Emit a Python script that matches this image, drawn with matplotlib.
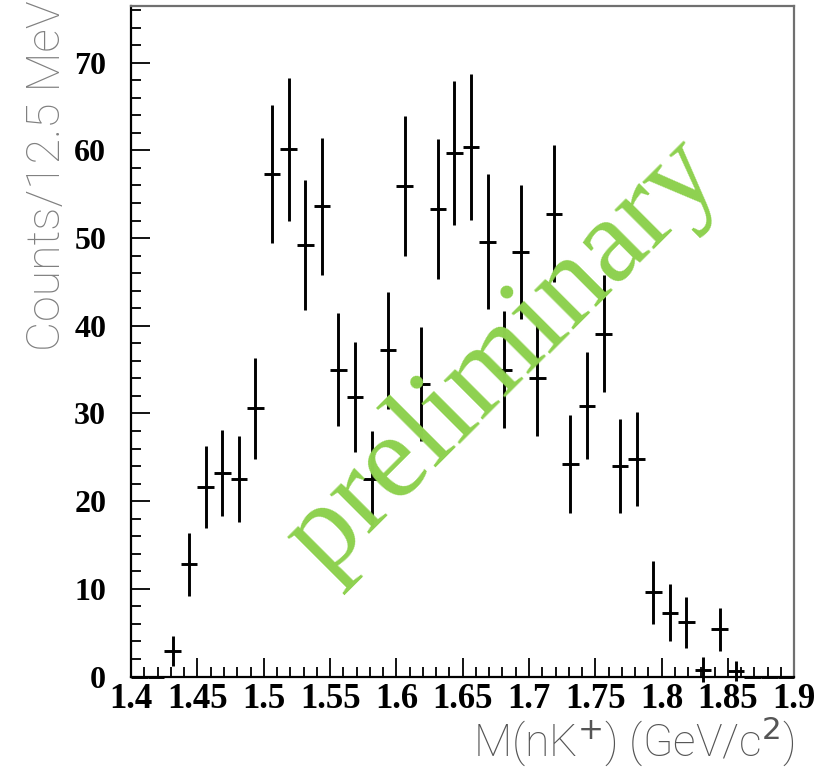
import numpy as np
import matplotlib
matplotlib.use("Agg")
import matplotlib.pyplot as plt
from matplotlib.ticker import MultipleLocator

# bin centres of the M(nK+) histogram, 12.5 MeV bins from 1.4 to 1.9 GeV
mass = [1.40625, 1.41875, 1.43125, 1.44375, 1.45625, 1.46875, 1.48125, 1.49375,
        1.50625, 1.51875, 1.53125, 1.54375, 1.55625, 1.56875, 1.58125, 1.59375,
        1.60625, 1.61875, 1.63125, 1.64375, 1.65625, 1.66875, 1.68125, 1.69375,
        1.70625, 1.71875, 1.73125, 1.74375, 1.75625, 1.76875, 1.78125, 1.79375,
        1.80625, 1.81875, 1.83125, 1.84375, 1.85625, 1.86875, 1.88125, 1.89375]
bin_half = 0.00625

counts = [0, 0, 2.9, 12.8, 21.6, 23.2, 22.5, 30.6,
          57.3, 60.1, 49.2, 53.6, 35.0, 31.9, 22.5, 37.2,
          55.9, 33.4, 53.3, 59.7, 60.4, 49.6, 35.0, 48.4,
          34.0, 52.8, 24.2, 30.9, 39.1, 24.0, 24.8, 9.6,
          7.3, 6.2, 0.8, 5.4, 0.6, 0, 0, 0]

errors = [0, 0, 1.75, 3.6, 4.7, 4.95, 4.9, 5.75,
          7.85, 8.1, 7.4, 7.8, 6.45, 6.3, 5.45, 6.7,
          8.0, 6.5, 7.95, 8.25, 8.35, 7.7, 6.65, 7.6,
          6.55, 7.8, 5.6, 6.1, 6.7, 5.4, 5.4, 3.6,
          3.2, 2.9, 1.4, 2.45, 1.15, 0, 0, 0]

xticks = [1.4, 1.45, 1.5, 1.55, 1.6, 1.65, 1.7, 1.75, 1.8, 1.85, 1.9]
xtick_labels = ["1.4", "1.45", "1.5", "1.55", "1.6", "1.65", "1.7", "1.75", "1.8", "1.85", "1.9"]
yticks = [0, 10, 20, 30, 40, 50, 60, 70]

serif = ["Liberation Serif", "DejaVu Serif"]
thin = ["Roboto", "DejaVu Sans"]

fig = plt.figure(figsize=(8.25, 7.68), dpi=100)
ax = fig.add_axes([0.159, 0.1191, 0.8037, 0.8735])

ax.errorbar(mass, counts, yerr=errors, xerr=bin_half, fmt="none",
            ecolor="black", elinewidth=2.1, capsize=0, clip_on=False, zorder=3)

ax.set_xlim(1.4, 1.9)
ax.set_ylim(0, 76.5)

ax.set_xticks(xticks)
ax.set_xticklabels(xtick_labels)
ax.set_yticks(yticks)
ax.xaxis.set_minor_locator(MultipleLocator(0.01))
ax.yaxis.set_minor_locator(MultipleLocator(2))
ax.tick_params(which="both", direction="in", top=False, right=False, width=1.3, color="black")
ax.tick_params(which="major", length=14)
ax.tick_params(which="minor", length=7)
ax.tick_params(axis="y", which="major", pad=18)
ax.tick_params(axis="x", which="major", pad=5)
for lab in ax.get_xticklabels():
    lab.set_fontfamily(serif)
    lab.set_fontweight("bold")
    lab.set_fontsize(25)
for lab in ax.get_yticklabels():
    lab.set_fontfamily(serif)
    lab.set_fontweight("bold")
    lab.set_fontsize(23)

for side in ["left", "bottom"]:
    ax.spines[side].set_color("black")
    ax.spines[side].set_linewidth(1.6)
for side in ["top", "right"]:
    ax.spines[side].set_color("#707070")
    ax.spines[side].set_linewidth(1.6)

# axis titles, right/top aligned as in ROOT
fig.text(0.9628, 0.0145, r"M(nK$^{+}$) (GeV/c$^{2}$)", ha="right", va="baseline",
         fontsize=32, color="#555555", family=thin, fontweight="light")
fig.text(0.057, 0.999, "Counts/12.5 MeV", rotation=90, ha="center", va="top",
         fontsize=33.5, color="#808080", family=thin, fontweight="light")

# watermark
fig.text(503 / 825, 1 - 357 / 768, "preliminary", rotation=45, rotation_mode="anchor",
         ha="center", va="center", fontsize=87, color="#8ED14F", family=serif, zorder=5)

fig.savefig("out.png", dpi=100)
